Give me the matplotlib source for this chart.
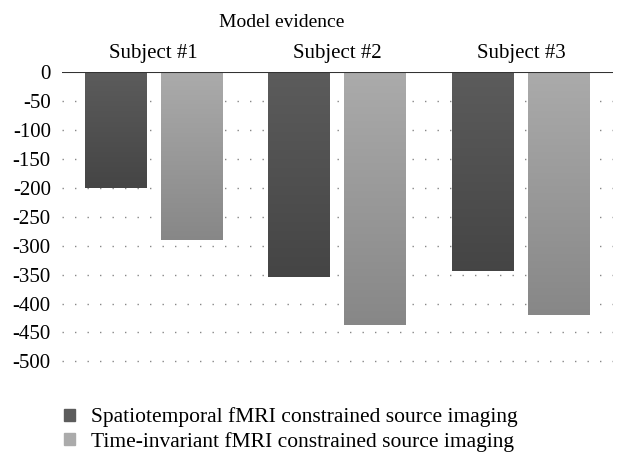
import numpy as np
import matplotlib.pyplot as plt
from matplotlib.patches import Patch

subjects = ["Subject #1", "Subject #2", "Subject #3"]
spatiotemporal = [-200, -355, -344]
time_invariant = [-290, -437, -420]
series_names = ["Spatiotemporal fMRI constrained source imaging",
                "Time-invariant fMRI constrained source imaging"]

plt.rcParams["font.family"] = ["Liberation Serif", "DejaVu Serif"]
plt.rcParams["axes.unicode_minus"] = False

fig = plt.figure(figsize=(6.26, 4.71), dpi=100)
ax = fig.add_axes([0.099, 0.229, 0.880, 0.618])

x = np.arange(len(subjects))
width = 0.337
offset = 0.207
# (top colour, bottom colour) for the vertical gradients
shades = [((0.36, 0.36, 0.36), (0.27, 0.27, 0.27)),
          ((0.67, 0.67, 0.67), (0.53, 0.53, 0.53))]


def gradient_bars(xs, vals, top, bottom):
    bars = ax.bar(xs, vals, width, color="none", edgecolor="none", zorder=3)
    for bar in bars:
        x0 = bar.get_x()
        h = bar.get_height()
        grad = np.linspace(0, 1, 256)[:, None, None]
        img = np.array(top)[None, None, :] * (1 - grad) + np.array(bottom)[None, None, :] * grad
        im = ax.imshow(img, extent=[x0, x0 + width, h, 0], aspect="auto",
                       origin="upper", zorder=3)
        im.set_clip_path(bar)
    return bars


gradient_bars(x - offset, spatiotemporal, *shades[0])
gradient_bars(x + offset, time_invariant, *shades[1])

ax.set_xlim(-0.5, 2.5)
ax.set_ylim(-503, 0)
ax.set_yticks(np.arange(-500, 1, 50))
for yv in np.arange(-500, 0, 50):
    ax.axhline(yv, color="#888888", lw=1, ls=(0, (1, 8)), zorder=1)
ax.axhline(0, color="#333333", lw=1.5, zorder=4)

for s in ax.spines.values():
    s.set_visible(False)
ax.tick_params(axis="y", length=0, labelsize=15, pad=8)
ax.tick_params(axis="x", length=0)
ax.set_xticks([])

for i, name in enumerate(subjects):
    ax.text(i, 16, name, ha="center", va="bottom", fontsize=15)
fig.text(0.45, 0.953, "Model evidence", ha="center", va="center", fontsize=14)

handles = [Patch(color=shades[0][0]), Patch(color=shades[1][0])]
fig.legend(handles, series_names, loc="lower left", bbox_to_anchor=(0.072, 0.0),
           frameon=False, fontsize=15.5, handlelength=0.5, handleheight=0.5,
           handletextpad=0.75, labelspacing=0.2)

fig.savefig("out.png", dpi=100)
